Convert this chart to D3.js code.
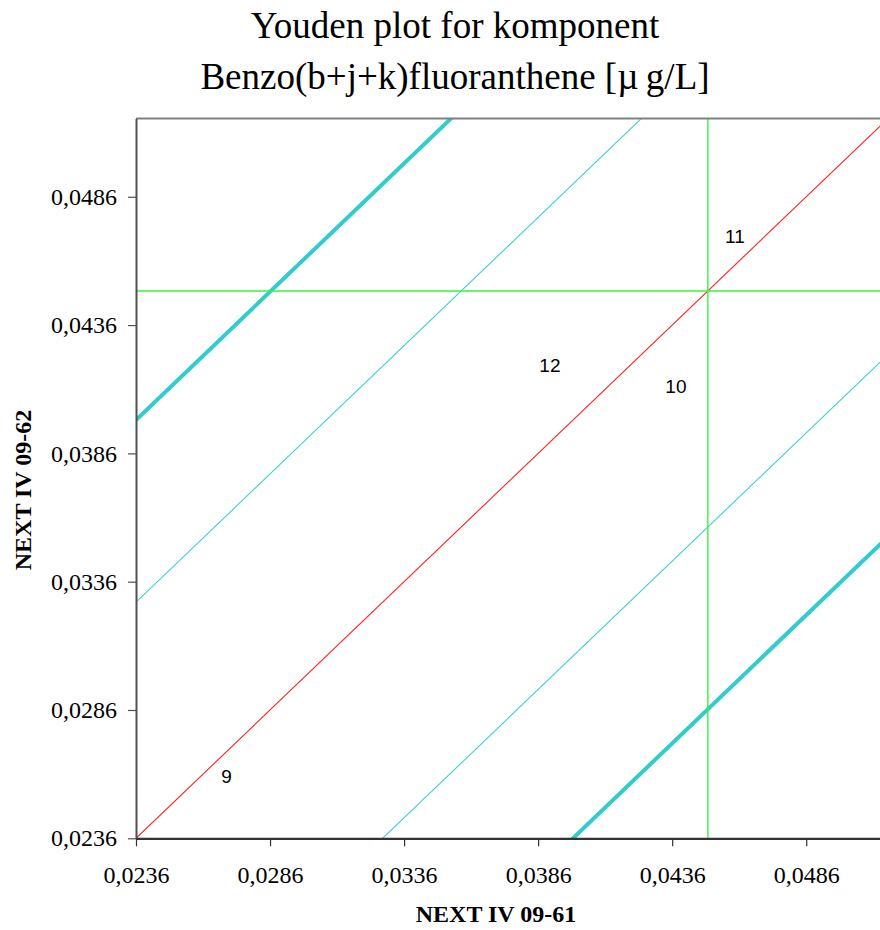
<!DOCTYPE html>
<html>
<head>
<meta charset="utf-8">
<script src="https://cdn.jsdelivr.net/npm/d3@7"></script>
<style>
  html, body { margin: 0; padding: 0; background: #fff; }
  svg { display: block; }
</style>
</head>
<body>
<svg id="chart" width="880" height="930"></svg>
<script>
// Youden plot: lab results for two samples, NEXT IV 09-61 vs NEXT IV 09-62
const titleLines = ["Youden plot for komponent", "Benzo(b+j+k)fluoranthene [\u00b5\u2009g/L]"];
const xTitle = "NEXT IV 09-61";
const yTitle = "NEXT IV 09-62";

const axisDomain = [0.0236, 0.05165];
const xTicks = [0.0236, 0.0286, 0.0336, 0.0386, 0.0436, 0.0486];
const yTicks = [0.0236, 0.0286, 0.0336, 0.0386, 0.0436, 0.0486];

// assigned values (green cross-hair)
const assignedX = 0.04493;
const assignedY = 0.04493;

// diagonal lines y = x + offset
const lineOffsets = [-0.0163, -0.0092, 0, 0.0092, 0.0163];

// lab numbers placed at their result pairs
const labIds = ["9", "10", "11", "12"];
const labX = [0.02698, 0.04374, 0.04594, 0.03904];
const labY = [0.02599, 0.04119, 0.04704, 0.04204];

const svg = d3.select("#chart");
const plot = { left: 136, right: 888, top: 118.5, bottom: 838.3 };

const x = d3.scaleLinear().domain(axisDomain).range([plot.left, plot.right]);
const y = d3.scaleLinear().domain(axisDomain).range([plot.bottom, plot.top]);

const loc = d3.formatLocale({ decimal: ",", thousands: ".", grouping: [3], currency: ["", ""] });
const fmt = loc.format(".4f");

// title
svg.append("g")
  .selectAll("text")
  .data(titleLines)
  .join("text")
  .attr("x", 455)
  .attr("y", (d, i) => 38 + i * 51)
  .attr("text-anchor", "middle")
  .attr("font-family", "'Liberation Serif', 'Times New Roman', serif")
  .attr("font-size", 37)
  .attr("fill", "#000")
  .text(d => d);

// clip for plot area
svg.append("defs").append("clipPath").attr("id", "plotClip")
  .append("rect")
  .attr("x", plot.left).attr("y", plot.top)
  .attr("width", plot.right - plot.left).attr("height", plot.bottom - plot.top);

const area = svg.append("g").attr("clip-path", "url(#plotClip)");

// diagonal lines
function lineStyle(off) {
  const a = Math.abs(off);
  if (a === 0) return { stroke: "#ff2020", width: 1.1 };
  if (a < 0.012) return { stroke: "#3cd0d0", width: 1.1 };
  return { stroke: "#33cccc", width: 4 };
}
area.selectAll("line.diag")
  .data(lineOffsets)
  .join("line")
  .attr("class", "diag")
  .attr("x1", x(axisDomain[0]))
  .attr("y1", d => y(axisDomain[0] + d))
  .attr("x2", x(axisDomain[1]))
  .attr("y2", d => y(axisDomain[1] + d))
  .attr("stroke", d => lineStyle(d).stroke)
  .attr("stroke-width", d => lineStyle(d).width);

// assigned value cross-hair
area.append("line")
  .attr("x1", x(assignedX)).attr("x2", x(assignedX))
  .attr("y1", plot.top).attr("y2", plot.bottom)
  .attr("stroke", "#3cf03c").attr("stroke-width", 1.4);
area.append("line")
  .attr("x1", plot.left).attr("x2", plot.right)
  .attr("y1", y(assignedY)).attr("y2", y(assignedY))
  .attr("stroke", "#3cf03c").attr("stroke-width", 1.4);

// lab labels
area.selectAll("text.lab")
  .data(labIds)
  .join("text")
  .attr("class", "lab")
  .attr("x", (d, i) => x(labX[i]))
  .attr("y", (d, i) => y(labY[i]))
  .attr("text-anchor", "middle")
  .attr("dominant-baseline", "central")
  .attr("font-family", "'Liberation Sans', Arial, sans-serif")
  .attr("font-size", 19)
  .attr("fill", "#000")
  .text(d => d);

// top frame
svg.append("line")
  .attr("x1", plot.left).attr("x2", plot.right)
  .attr("y1", plot.top).attr("y2", plot.top)
  .attr("stroke", "#808080").attr("stroke-width", 2);

// axes
const yAxis = svg.append("g")
  .attr("transform", `translate(${plot.left},0)`)
  .call(d3.axisLeft(y).tickValues(yTicks).tickFormat(fmt).tickSize(8).tickSizeOuter(0).tickPadding(11));
yAxis.select(".domain").attr("stroke", "#505050").attr("stroke-width", 2);
yAxis.selectAll(".tick line").attr("stroke", "#505050").attr("stroke-width", 1.2);
yAxis.selectAll(".tick text")
  .attr("font-family", "'Liberation Serif', 'Times New Roman', serif")
  .attr("font-size", 24).attr("fill", "#000");

const xAxis = svg.append("g")
  .attr("transform", `translate(0,${plot.bottom})`)
  .call(d3.axisBottom(x).tickValues(xTicks).tickFormat(fmt).tickSize(8).tickSizeOuter(0).tickPadding(20));
xAxis.select(".domain").attr("stroke", "#333").attr("stroke-width", 2.2);
xAxis.selectAll(".tick line").attr("stroke", "#333").attr("stroke-width", 1.2);
xAxis.selectAll(".tick text")
  .attr("font-family", "'Liberation Serif', 'Times New Roman', serif")
  .attr("font-size", 24).attr("fill", "#000");

// axis titles
svg.append("text")
  .attr("x", 496).attr("y", 922)
  .attr("text-anchor", "middle")
  .attr("font-family", "'Liberation Serif', 'Times New Roman', serif")
  .attr("font-weight", "bold")
  .attr("font-size", 24)
  .attr("fill", "#000")
  .text(xTitle);

svg.append("text")
  .attr("transform", "translate(31,490) rotate(-90)")
  .attr("text-anchor", "middle")
  .attr("font-family", "'Liberation Serif', 'Times New Roman', serif")
  .attr("font-weight", "bold")
  .attr("font-size", 24)
  .attr("fill", "#000")
  .text(yTitle);
</script>
</body>
</html>
